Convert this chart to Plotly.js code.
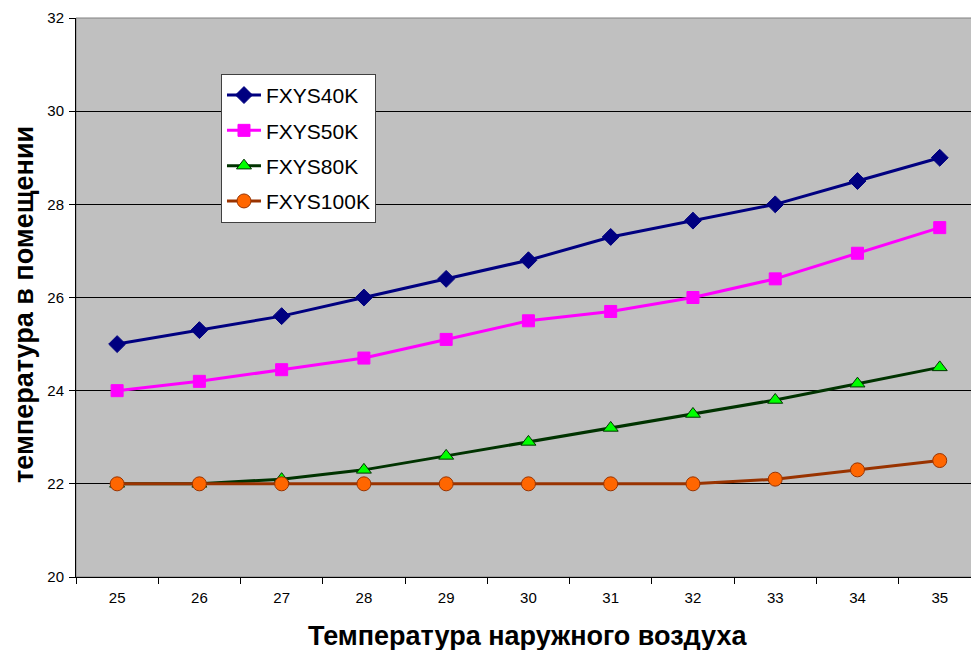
<!DOCTYPE html>
<html>
<head>
<meta charset="utf-8">
<script src="https://cdn.plot.ly/plotly-3.0.1.min.js"></script>
<style>html,body{margin:0;padding:0;background:#fff}#chart{width:971px;height:650px}</style>
</head>
<body>
<div id="chart"></div>
<script>
const categories = ["25","26","27","28","29","30","31","32","33","34","35"];
const s40 = [25, 25.3, 25.6, 26, 26.4, 26.8, 27.3, 27.65, 28, 28.5, 29];
const s50 = [24, 24.2, 24.45, 24.7, 25.1, 25.5, 25.7, 26, 26.4, 26.95, 27.5];
const s80 = [22, 22, 22.1, 22.3, 22.6, 22.9, 23.2, 23.5, 23.8, 24.15, 24.5];
const s100 = [22, 22, 22, 22, 22, 22, 22, 22, 22.1, 22.3, 22.5];
const names = ["FXYS40K", "FXYS50K", "FXYS80K", "FXYS100K"];
const xTitle = "Температура наружного воздуха";
const yTitle = "температура в помещении";

const traces = [
  {x: categories, y: s40, name: names[0], legendgroup: "a", mode: "lines+markers",
   line: {color: "#000080", width: 3},
   marker: {symbol: "diamond", size: 13, color: "#000080", line: {color: "#000080", width: 1}}},
  {x: categories, y: s50, name: names[1], legendgroup: "b", mode: "lines+markers",
   line: {color: "#FF00FF", width: 3},
   marker: {symbol: "square", size: 12, color: "#FF00FF", line: {color: "#FF00FF", width: 1}}},
  {x: categories, y: s80, name: names[2], legendgroup: "c", mode: "lines+markers",
   line: {color: "#003300", width: 3},
   marker: {symbol: "triangle-up", size: 13, color: "#00FF00", line: {color: "#003300", width: 1}}},
  {x: categories, y: s100, name: names[3], legendgroup: "d", mode: "lines+markers",
   line: {color: "#993300", width: 3},
   marker: {symbol: "circle", size: 14, color: "#FF6600", line: {color: "#993300", width: 1}}}
];

const font = "Liberation Sans, Arial, sans-serif";

const layout = {
  width: 971, height: 650,
  margin: {l: 76, r: 0, t: 18, b: 73},
  paper_bgcolor: "#ffffff",
  plot_bgcolor: "#C0C0C0",
  font: {family: font, color: "#000"},
  showlegend: true,
  legend: {
    x: 0.162, y: 0.9, xanchor: "left", yanchor: "top",
    bgcolor: "#ffffff", bordercolor: "#404040", borderwidth: 1,
    font: {size: 21, family: font},
    traceorder: "grouped", tracegroupgap: 5, itemwidth: 34
  },
  xaxis: {
    type: "category",
    range: [-0.5, 10.38],
    tickson: "boundaries",
    ticks: "outside", ticklen: 6, tickcolor: "#000",
    ticklabelstandoff: 7,
    showgrid: false,
    showline: true, linecolor: "#000", linewidth: 1,
    tickfont: {size: 15},
    automargin: false, zeroline: false
  },
  yaxis: {
    range: [20, 32],
    dtick: 2,
    ticks: "outside", ticklen: 6, tickcolor: "#000",
    ticklabelstandoff: 2,
    showgrid: true, gridcolor: "#000", gridwidth: 1,
    showline: true, linecolor: "#000", linewidth: 1,
    tickfont: {size: 15},
    automargin: false, zeroline: false
  },
  annotations: [
    {text: xTitle, xref: "paper", yref: "paper", x: 0.504, y: -0.1055, xanchor: "center", yanchor: "middle",
     showarrow: false, font: {size: 27, family: font, weight: "bold"}},
    {text: yTitle, xref: "paper", yref: "paper", x: -0.0581, y: 0.4866, xanchor: "center", yanchor: "middle",
     textangle: -90, showarrow: false, font: {size: 27, family: font, weight: "bold"}}
  ],
  shapes: [
    {type: "rect", xref: "paper", yref: "paper", x0: 0, x1: 1.02, y0: 0, y1: 1, line: {color: "#808080", width: 1}, layer: "below"}
  ]
};

Plotly.newPlot("chart", traces, layout, {displayModeBar: false, staticPlot: true});
</script>
</body>
</html>
